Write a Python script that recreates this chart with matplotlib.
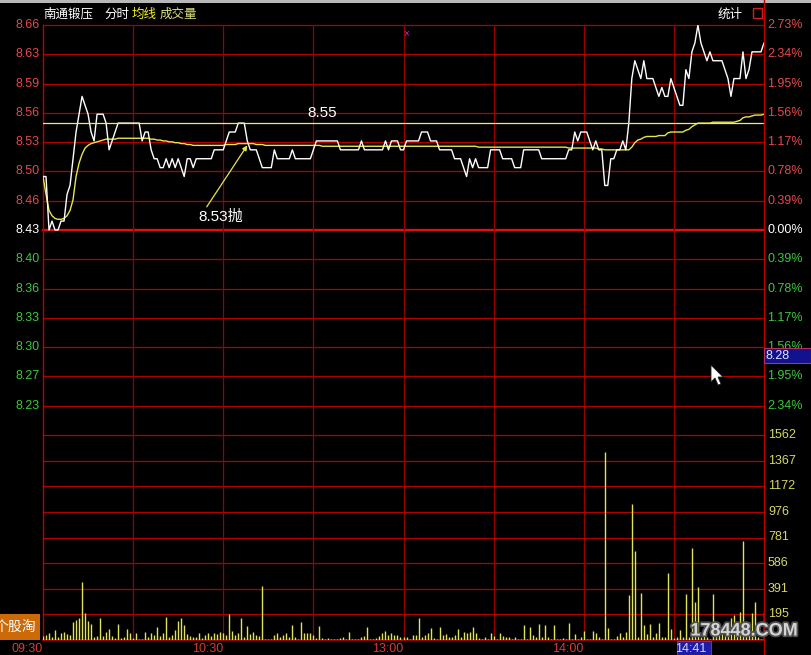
import matplotlib
matplotlib.use("Agg")
import matplotlib.pyplot as plt
import matplotlib.patheffects as pe
from matplotlib.patches import Rectangle, Polygon
from matplotlib.lines import Line2D
from matplotlib.transforms import blended_transform_factory as blend
import numpy as np

# ---------------------------------------------------------------- data
stock_name = "南通锻压"
prev_close = 8.43
pct_step = 0.0039          # one grid row = 0.39 %

price = [
    8.49, 8.49, 8.43, 8.44, 8.43, 8.43, 8.44, 8.44, 8.47, 8.48,
    8.51, 8.54, 8.56, 8.58, 8.57, 8.56, 8.54, 8.53, 8.56, 8.56,
    8.56, 8.55, 8.52, 8.53, 8.54, 8.55, 8.55, 8.55, 8.55, 8.55,
    8.55, 8.55, 8.55, 8.53, 8.54, 8.54, 8.52, 8.51, 8.51, 8.50,
    8.50, 8.51, 8.50, 8.51, 8.50, 8.51, 8.50, 8.49, 8.51, 8.51,
    8.50, 8.51, 8.51, 8.51, 8.51, 8.51, 8.51, 8.52, 8.52, 8.52,
    8.52, 8.53, 8.54, 8.54, 8.54, 8.55, 8.55, 8.55, 8.53, 8.52,
    8.52, 8.52, 8.51, 8.50, 8.50, 8.50, 8.50, 8.52, 8.51, 8.51,
    8.51, 8.51, 8.51, 8.52, 8.51, 8.51, 8.51, 8.51, 8.51, 8.51,
    8.52, 8.53, 8.53, 8.53, 8.53, 8.53, 8.53, 8.53, 8.53, 8.52,
    8.52, 8.52, 8.52, 8.52, 8.52, 8.52, 8.53, 8.52, 8.52, 8.52,
    8.52, 8.52, 8.52, 8.52, 8.53, 8.52, 8.53, 8.53, 8.53, 8.52,
    8.52, 8.53, 8.53, 8.53, 8.53, 8.53, 8.54, 8.54, 8.54, 8.53,
    8.53, 8.53, 8.52, 8.52, 8.52, 8.52, 8.52, 8.51, 8.51, 8.51,
    8.50, 8.49, 8.51, 8.50, 8.51, 8.50, 8.50, 8.50, 8.50, 8.52,
    8.52, 8.52, 8.52, 8.51, 8.51, 8.51, 8.51, 8.50, 8.50, 8.50,
    8.52, 8.52, 8.52, 8.52, 8.52, 8.52, 8.51, 8.51, 8.51, 8.51,
    8.51, 8.51, 8.51, 8.51, 8.51, 8.52, 8.52, 8.54, 8.53, 8.54,
    8.54, 8.54, 8.53, 8.52, 8.53, 8.52, 8.52, 8.48, 8.48, 8.51,
    8.51, 8.52, 8.52, 8.53, 8.52, 8.55, 8.60, 8.62, 8.61, 8.60,
    8.62, 8.60, 8.60, 8.60, 8.59, 8.58, 8.59, 8.58, 8.58, 8.60,
    8.59, 8.58, 8.57, 8.57, 8.61, 8.60, 8.63, 8.64, 8.66, 8.64,
    8.63, 8.62, 8.63, 8.62, 8.62, 8.62, 8.62, 8.61, 8.60, 8.58,
    8.60, 8.60, 8.60, 8.63, 8.60, 8.61, 8.63, 8.63, 8.63, 8.63,
    8.64,
]

avg_price = [
    8.490, 8.470, 8.452, 8.446, 8.443, 8.442, 8.442, 8.443, 8.446, 8.452,
    8.464, 8.490, 8.505, 8.515, 8.522, 8.525, 8.527, 8.528, 8.529, 8.530,
    8.531, 8.532, 8.532, 8.532, 8.532, 8.533, 8.533, 8.533, 8.533, 8.533,
    8.533, 8.533, 8.533, 8.533, 8.533, 8.533, 8.532, 8.532, 8.531, 8.531,
    8.530, 8.530, 8.529, 8.529, 8.528, 8.528, 8.527, 8.527, 8.526, 8.526,
    8.525, 8.525, 8.525, 8.525, 8.525, 8.525, 8.525, 8.525, 8.525, 8.525,
    8.525, 8.526, 8.526, 8.526, 8.526, 8.527, 8.527, 8.527, 8.527, 8.527,
    8.527, 8.526, 8.526, 8.526, 8.525, 8.525, 8.525, 8.525, 8.525, 8.525,
    8.525, 8.525, 8.525, 8.525, 8.525, 8.525, 8.525, 8.525, 8.525, 8.525,
    8.525, 8.525, 8.525, 8.524, 8.524, 8.524, 8.524, 8.524, 8.524, 8.524,
    8.524, 8.524, 8.524, 8.524, 8.524, 8.524, 8.524, 8.524, 8.524, 8.524,
    8.524, 8.524, 8.524, 8.524, 8.524, 8.524, 8.524, 8.524, 8.524, 8.524,
    8.524, 8.524, 8.524, 8.524, 8.524, 8.524, 8.524, 8.524, 8.524, 8.524,
    8.524, 8.524, 8.524, 8.524, 8.524, 8.524, 8.524, 8.524, 8.524, 8.524,
    8.524, 8.524, 8.524, 8.524, 8.524, 8.523, 8.523, 8.523, 8.523, 8.523,
    8.523, 8.523, 8.523, 8.523, 8.523, 8.523, 8.523, 8.523, 8.523, 8.523,
    8.523, 8.523, 8.523, 8.523, 8.523, 8.523, 8.523, 8.523, 8.523, 8.523,
    8.523, 8.523, 8.523, 8.523, 8.523, 8.522, 8.522, 8.522, 8.522, 8.522,
    8.522, 8.522, 8.522, 8.522, 8.522, 8.521, 8.521, 8.520, 8.520, 8.520,
    8.520, 8.520, 8.520, 8.520, 8.520, 8.520, 8.523, 8.528, 8.531, 8.532,
    8.534, 8.535, 8.535, 8.535, 8.535, 8.536, 8.536, 8.536, 8.539, 8.540,
    8.540, 8.540, 8.540, 8.540, 8.542, 8.543, 8.546, 8.548, 8.550, 8.550,
    8.550, 8.550, 8.550, 8.551, 8.551, 8.551, 8.551, 8.551, 8.551, 8.551,
    8.551, 8.552, 8.553, 8.556, 8.557, 8.557, 8.558, 8.559, 8.559, 8.559,
    8.560,
]

volume = [
    30, 38, 56, 25, 76, 25, 56, 64, 43, 38,
    140, 153, 165, 445, 204, 148, 122, 25, 30, 165,
    30, 64, 81, 30, 13, 122, 18, 25, 81, 56,
    13, 51, 5, 8, 64, 25, 56, 38, 97, 30,
    56, 173, 25, 38, 76, 148, 165, 114, 46, 30,
    25, 25, 56, 13, 38, 51, 30, 56, 43, 64,
    51, 38, 198, 71, 38, 56, 165, 25, 104, 43,
    64, 38, 30, 412, 5, 8, 8, 38, 56, 25,
    38, 56, 25, 114, 25, 10, 140, 51, 51, 51,
    38, 13, 104, 13, 5, 18, 5, 5, 5, 13,
    25, 5, 64, 5, 5, 5, 25, 30, 97, 5,
    5, 13, 30, 51, 71, 38, 51, 38, 38, 25,
    25, 25, 5, 38, 38, 170, 25, 38, 56, 89,
    13, 8, 102, 38, 46, 25, 25, 38, 81, 25,
    64, 51, 64, 102, 51, 13, 5, 25, 5, 56,
    30, 5, 51, 30, 25, 25, 5, 25, 5, 5,
    114, 5, 102, 38, 25, 122, 25, 112, 25, 5,
    112, 5, 5, 13, 5, 130, 5, 46, 5, 20,
    71, 5, 5, 71, 51, 25, 5, 1430, 89, 5,
    5, 30, 56, 25, 61, 343, 1035, 682, 25, 356,
    112, 46, 122, 25, 56, 130, 25, 25, 509, 81,
    13, 25, 76, 25, 351, 25, 700, 292, 407, 25,
    51, 25, 10, 349, 51, 64, 76, 102, 140, 165,
    191, 102, 216, 758, 102, 140, 209, 292, 25, 10,
    216,
]

price_labels = ["8.66", "8.63", "8.59", "8.56", "8.53", "8.50", "8.46",
                "8.43",
                "8.40", "8.36", "8.33", "8.30", "8.27", "8.23"]
pct_labels = ["2.73%", "2.34%", "1.95%", "1.56%", "1.17%", "0.78%", "0.39%",
              "0.00%",
              "0.39%", "0.78%", "1.17%", "1.56%", "1.95%", "2.34%"]
vol_step = 195.3
vol_labels = ["195", "391", "586", "781", "976", "1172", "1367", "1562"]
time_labels = ["09:30", "10:30", "13:00", "14:00"]
time_minutes = [0, 60, 120, 180]
cursor_time_label = "14:41"
cursor_minute = 221
cursor_price_label = "8.28"
resist_price = 8.55
sell_price = 8.53
sell_minute = 68

# ---------------------------------------------------------------- figure
W, H = 811, 655
fig = plt.figure(figsize=(W / 100, H / 100), dpi=100, facecolor="black")


def fx(x):
    return x / W


def fy(y):
    return 1 - y / H


ax_p = fig.add_axes([fx(43), fy(435), fx(764) - fx(43), fy(25) - fy(435)])
ax_v = fig.add_axes([fx(43), fy(640), fx(764) - fx(43), fy(435) - fy(640)])
for ax in (ax_p, ax_v):
    ax.set_facecolor("black")
    ax.set_axis_off()
    ax.set_xlim(0, 240)

ax_p.set_ylim(prev_close * (1 - 7 * pct_step), prev_close * (1 + 7 * pct_step))
ax_v.set_ylim(0, 8 * vol_step)

GRID = "#b00000"
RED_TXT = "#e84848"
GREEN_TXT = "#3cc83c"
VOL_TXT = "#d8d860"
NUM_FONT = ["Liberation Sans", "DejaVu Sans"]
CJK_FONT = ["Noto Sans CJK SC", "DejaVu Sans"]
MIX_FONT = ["Liberation Sans", "Noto Sans CJK SC"]

minutes = np.arange(len(price))

# grid: price panel
for k in range(-6, 8):
    lvl = prev_close * (1 + k * pct_step)
    if k == 0:
        ax_p.axhline(lvl, color="#e01010", lw=1.7, zorder=1, clip_on=False)
    else:
        ax_p.axhline(lvl, color=GRID, lw=0.9, zorder=1, clip_on=False)
# grid: volume panel
for k in range(1, 9):
    ax_v.axhline(k * vol_step, color=GRID, lw=0.9, zorder=1, clip_on=False)
ax_v.axhline(0, color="#c00000", lw=1.2, zorder=1, clip_on=False)

# vertical half-hour lines spanning both panels
for m in range(30, 240, 30):
    for ax in (ax_p, ax_v):
        ax.axvline(m, color="#980000", lw=0.9, zorder=1)
ax_p.axvline(0, color="#c00000", lw=1.0, zorder=1, clip_on=False)
ax_v.axvline(0, color="#c00000", lw=1.0, zorder=1, clip_on=False)
fig.add_artist(Line2D([fx(764), fx(764)], [fy(0), fy(655)],
                      color="#c00000", lw=1.0))

# price, average and the 8.55 line
ax_p.plot(minutes, avg_price, color="#e6e64a", lw=1.0, zorder=3)
ax_p.plot(minutes, price, color="white", lw=1.0, zorder=4)
ax_p.axhline(resist_price, color="#eded6a", lw=0.9, zorder=5)
ax_p.text(88, resist_price + 0.011, f"{resist_price:.2f}", color="white",
          fontsize=11, family=NUM_FONT, va="center", ha="left", zorder=6)

ax_p.annotate("", xy=(sell_minute, sell_price - 0.005), xytext=(54.5, 8.456),
              arrowprops=dict(arrowstyle="-|>", color="#e6e64a", lw=0.9,
                              mutation_scale=7, shrinkA=0, shrinkB=0),
              zorder=6)
ax_p.text(51.8, 8.445, f"{sell_price:.2f}抛", color="white", fontsize=11,
          family=MIX_FONT, va="center", ha="left", zorder=6)

# volume bars
ax_v.vlines(minutes, 0, volume, colors="#e2e256", lw=1.0, zorder=3)

# axis labels: price panel
tr_left = blend(fig.transFigure, ax_p.transData)
for i, k in enumerate(range(7, -7, -1)):
    lvl = prev_close * (1 + k * pct_step)
    col = RED_TXT if k > 0 else ("white" if k == 0 else GREEN_TXT)
    ax_p.text(fx(39.5), lvl, price_labels[i], transform=tr_left, ha="right",
              va="center", color=col, fontsize=9, family=NUM_FONT, clip_on=False)
    ax_p.text(fx(767), lvl, pct_labels[i], transform=tr_left, ha="left",
              va="center", color=col, fontsize=9, family=NUM_FONT, clip_on=False)

# axis labels: volume panel
tr_vol = blend(fig.transFigure, ax_v.transData)
for k, lab in enumerate(vol_labels, start=1):
    ax_v.text(fx(768), k * vol_step, lab, transform=tr_vol, ha="left",
              va="center", color=VOL_TXT, fontsize=9, family=NUM_FONT,
              clip_on=False)

# time axis
tr_time = blend(ax_v.transData, fig.transFigure)
for m, lab in zip(time_minutes, time_labels):
    ax_v.text(m, fy(648.5), lab, transform=tr_time, ha="right", va="center",
              color="#d83a3a", fontsize=9, family=NUM_FONT, clip_on=False)

# cursor readouts
fig.add_artist(Rectangle((fx(677), fy(655)), fx(711) - fx(677), fy(641) - fy(655),
                         facecolor="#1c1ca8", edgecolor="#c02020", lw=0.8,
                         zorder=8))
cursor_x = ax_v.transData.transform((cursor_minute, 0))[0] / W
fig.text(cursor_x, fy(648.5), cursor_time_label, ha="right", va="center",
         color="#d8d8ff", fontsize=9, family=NUM_FONT, zorder=9)
fig.add_artist(Rectangle((fx(764), fy(363)), fx(811) - fx(764), fy(348) - fy(363),
                         facecolor="#12128e", edgecolor="#b03060", lw=0.8,
                         zorder=8))
fig.text(fx(766), fy(355.5), cursor_price_label, ha="left", va="center",
         color="#e0e0ff", fontsize=9, family=NUM_FONT, zorder=9)

# mouse pointer
arrow_pts = [(711, 365), (711, 382), (715, 378), (718, 385), (721, 384),
             (718, 377), (723, 377)]
fig.add_artist(Polygon([(fx(x), fy(y)) for x, y in arrow_pts], closed=True,
                       facecolor="white", edgecolor="#202020", lw=0.6,
                       zorder=12))

# header
fig.add_artist(Rectangle((0, fy(3)), 1, fy(0) - fy(3), facecolor="#b8b8b8",
                         edgecolor="none"))
fig.text(fx(43), fy(14.5), stock_name, color="white", fontsize=9,
         family=CJK_FONT, va="center", ha="left")
fig.text(fx(104), fy(14.5), "分时", color="white", fontsize=9,
         family=CJK_FONT, va="center", ha="left")
fig.text(fx(132), fy(14.5), "均线", color="#f0f020", fontsize=9,
         family=CJK_FONT, va="center", ha="left")
fig.text(fx(160), fy(14.5), "成交量", color="#e0e080", fontsize=9,
         family=CJK_FONT, va="center", ha="left")
fig.text(fx(718), fy(14.5), "统计", color="white", fontsize=9,
         family=CJK_FONT, va="center", ha="left")
fig.add_artist(Rectangle((fx(753), fy(18)), fx(762) - fx(753), fy(8) - fy(18),
                         facecolor="none", edgecolor="#d02020", lw=1.0))
fig.text(fx(406), fy(33), "×", color="#e020e0", fontsize=7, ha="center",
         va="center", family=NUM_FONT)

# side tab
fig.add_artist(Rectangle((0, fy(640)), fx(40), fy(614) - fy(640),
                         facecolor="#cc6a08", edgecolor="none"))
fig.text(fx(-5), fy(627), "个股淘", color="white", fontsize=10,
         family=CJK_FONT, va="center", ha="left")

# site mark
fig.text(fx(744), fy(631), "178448.COM", color="#d4d4d4", fontsize=13,
         fontweight="bold", family=["Liberation Sans", "DejaVu Sans"],
         ha="center", va="center", zorder=11,
         path_effects=[pe.withStroke(linewidth=2.5, foreground="#505050")])

fig.savefig("out.png", dpi=100, facecolor="black")
